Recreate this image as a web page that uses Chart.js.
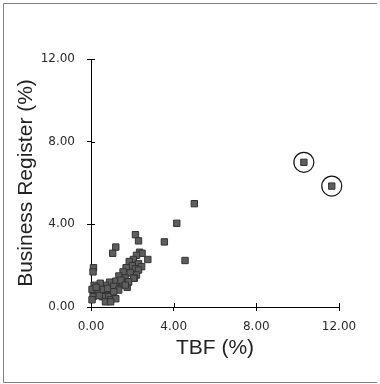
<!DOCTYPE html>
<html>
<head>
<meta charset="utf-8">
<script src="https://cdn.jsdelivr.net/npm/chart.js@4"></script>
<style>
  html, body { margin: 0; padding: 0; background: #fff; }
  #wrap { width: 380px; height: 384px; }
</style>
</head>
<body>
<div id="wrap"><canvas id="scatter"></canvas></div>
<script>
// TBF vs Business Register share (%) per area
const tbf = [
  5.0, 4.15, 3.55, 4.55, 2.15, 2.3, 1.2, 1.05, 0.12, 0.1, 2.75, 10.3, 11.65,
  2.35, 2.47, 2.2, 2.05, 1.85, 2.3, 2.0, 1.7, 2.15, 2.45, 2.3, 1.55, 1.9, 2.2, 2.1,
  1.35, 1.65, 1.8, 1.2, 1.5, 1.75, 1.3, 0.9, 0.7, 0.45, 0.15, 0.05, 0.35, 0.65,
  1.0, 1.05, 0.85, 0.55, 0.1, 0.05, 0.95, 1.2, 0.25, 0.6, 0.8, 1.1, 1.45, 0.4,
  0.7, 0.95, 2.06, 1.82, 1.66, 1.34, 1.1
]
const bizReg = [
  5.0, 4.05, 3.15, 2.25, 3.5, 3.2, 2.9, 2.6, 1.9, 1.7, 2.3, 7.0, 5.85,
  2.65, 2.6, 2.5, 2.3, 2.2, 2.1, 2.0, 1.9, 1.85, 1.95, 1.79, 1.7, 1.65, 1.55, 1.4,
  1.5, 1.4, 1.2, 1.25, 1.1, 0.95, 0.9, 1.2, 1.05, 1.15, 1.05, 0.85, 0.75, 0.65,
  0.75, 0.55, 0.5, 0.5, 0.5, 0.35, 0.35, 0.4, 0.95, 0.85, 0.9, 1.0, 1.3, 0.55,
  0.25, 0.25, 1.39, 1.22, 1.06, 0.82, 0.74
]
// outliers marked with a ring
const circledIdx = [11, 12]
const axisTicks = [0, 4, 8, 12]

const points = tbf.map((x, i) => ({ x: x, y: bizReg[i] }))
const rings = circledIdx.map(i => points[i])

// border round the figure + tick marks on the inner side of the axes
const frame = {
  id: 'frame',
  afterDraw(chart) {
    const ctx = chart.ctx
    const xs = chart.scales.x
    const ys = chart.scales.y
    ctx.save()
    ctx.strokeStyle = '#000'
    ctx.lineWidth = 1
    ctx.beginPath()
    axisTicks.forEach(v => {
      const px = Math.round(xs.getPixelForValue(v)) + 0.5
      ctx.moveTo(px, xs.top)
      ctx.lineTo(px, xs.top - 4)
      const py = Math.round(ys.getPixelForValue(v)) + 0.5
      ctx.moveTo(ys.right, py)
      ctx.lineTo(ys.right + 4, py)
    })
    ctx.stroke()
    ctx.strokeStyle = '#808080'
    ctx.beginPath()
    ctx.moveTo(377, 3.5)
    ctx.lineTo(3.5, 3.5)
    ctx.lineTo(3.5, 382.5)
    ctx.lineTo(377, 382.5)
    ctx.stroke()
    ctx.restore()
  }
}

const tickFont = { family: 'DejaVu Sans', size: 12 }
const titleFont = { family: 'Liberation Sans', size: 21 }

new Chart(document.getElementById('scatter'), {
  type: 'scatter',
  data: {
    datasets: [
      {
        label: 'Areas',
        data: points,
        pointStyle: 'rect',
        pointRadius: 4.5,
        backgroundColor: '#5e5e5e',
        borderColor: '#333333',
        borderWidth: 1,
        clip: false
      },
      {
        label: 'Outliers',
        data: rings,
        pointStyle: 'circle',
        pointRadius: 10,
        backgroundColor: 'rgba(0,0,0,0)',
        borderColor: '#111',
        borderWidth: 1.2,
        clip: false
      }
    ]
  },
  options: {
    responsive: true,
    maintainAspectRatio: false,
    animation: false,
    events: [],
    layout: { padding: { left: 0, top: 59, right: 41, bottom: 0 } },
    plugins: { legend: { display: false }, tooltip: { enabled: false } },
    scales: {
      x: {
        type: 'linear',
        min: 0,
        max: 12,
        afterBuildTicks: s => { s.ticks = axisTicks.map(v => ({ value: v })) },
        afterFit: s => { s.height = 77 },
        border: { display: true, color: '#000', width: 1 },
        grid: { drawOnChartArea: false, drawTicks: true, tickLength: 4, color: '#000' },
        ticks: { font: tickFont, color: '#2a2a2a', padding: 9, maxRotation: 0, callback: v => v.toFixed(2) },
        title: { display: true, text: 'TBF (%)', font: titleFont, color: '#222', padding: { top: 0, bottom: 23 } }
      },
      y: {
        type: 'linear',
        min: 0,
        max: 12,
        afterBuildTicks: s => { s.ticks = axisTicks.map(v => ({ value: v })) },
        afterFit: s => { s.width = 91 },
        border: { display: true, color: '#000', width: 1 },
        grid: { drawOnChartArea: false, drawTicks: true, tickLength: 4, color: '#000' },
        ticks: { font: tickFont, color: '#2a2a2a', padding: 12, callback: v => v.toFixed(2) },
        title: { display: true, text: 'Business Register (%)', font: titleFont, color: '#222', padding: { top: 14, bottom: 0 } }
      }
    }
  },
  plugins: [frame]
})
</script>
</body>
</html>
